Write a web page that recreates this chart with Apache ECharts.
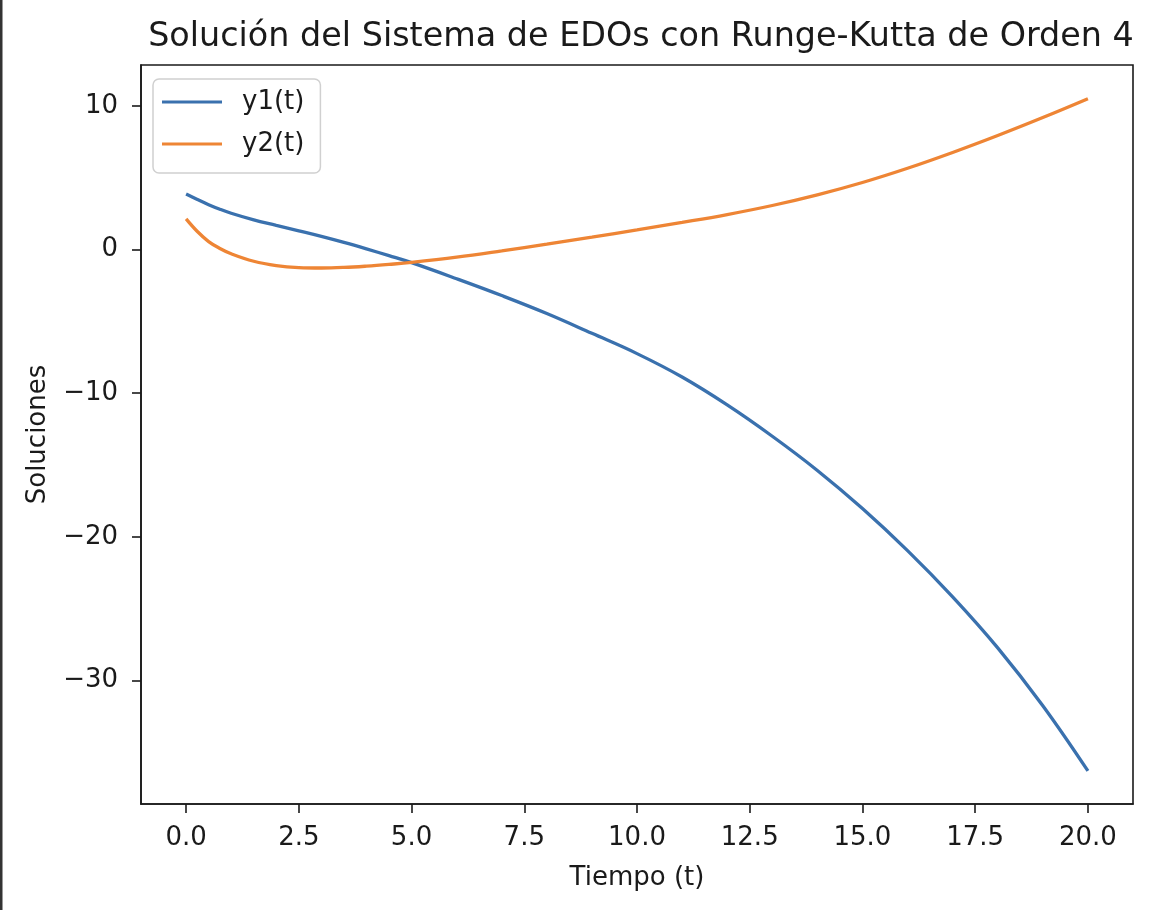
<!DOCTYPE html>
<html>
<head>
<meta charset="utf-8">
<script src="https://cdn.jsdelivr.net/npm/echarts@6/dist/echarts.min.js"></script>
<style>
html,body{margin:0;padding:0;background:#fff;}
#chart{width:1150px;height:910px;}
</style>
</head>
<body>
<div id="chart"></div>
<script>
// Data
var tValues = [0, 0.25, 0.5, 0.75, 1, 1.5, 2, 2.5, 3, 3.5, 4, 4.5, 5, 6, 7, 8, 9, 10, 11, 12, 13, 14, 15, 16, 17, 18, 19, 20];
var y1Values = [3.86, 3.48, 3.12, 2.80, 2.52, 2.06, 1.68, 1.30, 0.91, 0.49, 0.04, -0.43, -0.92, -2.04, -3.21, -4.46, -5.84, -7.25, -8.88, -10.82, -13.00, -15.38, -18.03, -20.96, -24.18, -27.73, -31.76, -36.30];
var y2Values = [2.13, 1.25, 0.55, 0.07, -0.30, -0.82, -1.12, -1.26, -1.29, -1.25, -1.16, -1.04, -0.90, -0.54, -0.10, 0.37, 0.86, 1.36, 1.88, 2.43, 3.06, 3.80, 4.66, 5.65, 6.75, 7.93, 9.18, 10.49];
var seriesNames = ['y1(t)', 'y2(t)'];
var xTicks = [0, 2.5, 5, 7.5, 10, 12.5, 15, 17.5, 20];
var yTicks = [-30, -20, -10, 0, 10];
var titleText = 'Solución del Sistema de EDOs con Runge-Kutta de Orden 4';
var xLabel = 'Tiempo (t)';
var yLabel = 'Soluciones';

function pairs(xs, ys) {
  var out = [];
  for (var i = 0; i < xs.length; i++) out.push([xs[i], ys[i]]);
  return out;
}

var FONT = 'DejaVu Sans';
var INK = '#1a1a1a';
var chart = echarts.init(document.getElementById('chart'), null, {renderer: 'canvas'});
chart.setOption({
  animation: false,
  backgroundColor: '#ffffff',
  title: {
    text: titleText,
    left: 636,
    top: 16,
    textAlign: 'center',
    textStyle: {fontFamily: FONT, fontSize: 33.4, fontWeight: 'normal', color: INK}
  },
  legend: {
    orient: 'vertical',
    left: 153,
    top: 79,
    padding: [9, 16, 15, 9],
    icon: 'rect',
    itemWidth: 60,
    itemHeight: 3,
    itemGap: 14,
    backgroundColor: 'rgba(255,255,255,0.85)',
    borderColor: '#d0d0d0',
    borderWidth: 1.5,
    borderRadius: 6,
    textStyle: {fontFamily: FONT, fontSize: 26, lineHeight: 28, color: INK, padding: [0, 0, 0, 15]},
    data: seriesNames
  },
  grid: {
    left: 141,
    top: 65,
    width: 992,
    height: 739,
    show: true,
    borderColor: INK,
    borderWidth: 1.6,
    backgroundColor: 'transparent'
  },
  xAxis: {
    type: 'value',
    min: -1,
    max: 21,
    name: xLabel,
    nameLocation: 'middle',
    nameGap: 61,
    nameTextStyle: {fontFamily: FONT, fontSize: 26, color: INK},
    axisLine: {show: true, onZero: false, lineStyle: {color: INK, width: 1.6}},
    splitLine: {show: false},
    axisTick: {show: true, customValues: xTicks, length: 9, inside: false, lineStyle: {color: INK, width: 1.6}},
    axisLabel: {
      customValues: xTicks,
      margin: 21,
      fontFamily: FONT, fontSize: 26, color: INK,
      formatter: function (v) { return Number(v).toFixed(1); }
    }
  },
  yAxis: {
    type: 'value',
    min: -38.6,
    max: 12.84,
    name: yLabel,
    nameLocation: 'middle',
    nameGap: 90,
    nameTextStyle: {fontFamily: FONT, fontSize: 26, color: INK},
    axisLine: {show: true, onZero: false, lineStyle: {color: INK, width: 1.6}},
    splitLine: {show: false},
    axisTick: {show: true, customValues: yTicks, length: 9, inside: false, lineStyle: {color: INK, width: 1.6}},
    axisLabel: {
      customValues: yTicks,
      margin: 23,
      fontFamily: FONT, fontSize: 26, color: INK,
      formatter: function (v) { return v < 0 ? '\u2212' + Math.abs(v) : String(v); }
    }
  },
  series: [
    {
      name: seriesNames[0],
      type: 'line',
      data: pairs(tValues, y1Values),
      smooth: 0.4,
      symbol: 'none',
      lineStyle: {color: '#3a71ae', width: 3.3},
      itemStyle: {color: '#3a71ae'}
    },
    {
      name: seriesNames[1],
      type: 'line',
      data: pairs(tValues, y2Values),
      smooth: 0.4,
      symbol: 'none',
      lineStyle: {color: '#ee8535', width: 3.3},
      itemStyle: {color: '#ee8535'}
    }
  ],
  graphic: [
    {type: 'rect', left: 0, top: 0, shape: {width: 2.5, height: 910}, style: {fill: '#333333'}, silent: true}
  ]
});
</script>
</body>
</html>
